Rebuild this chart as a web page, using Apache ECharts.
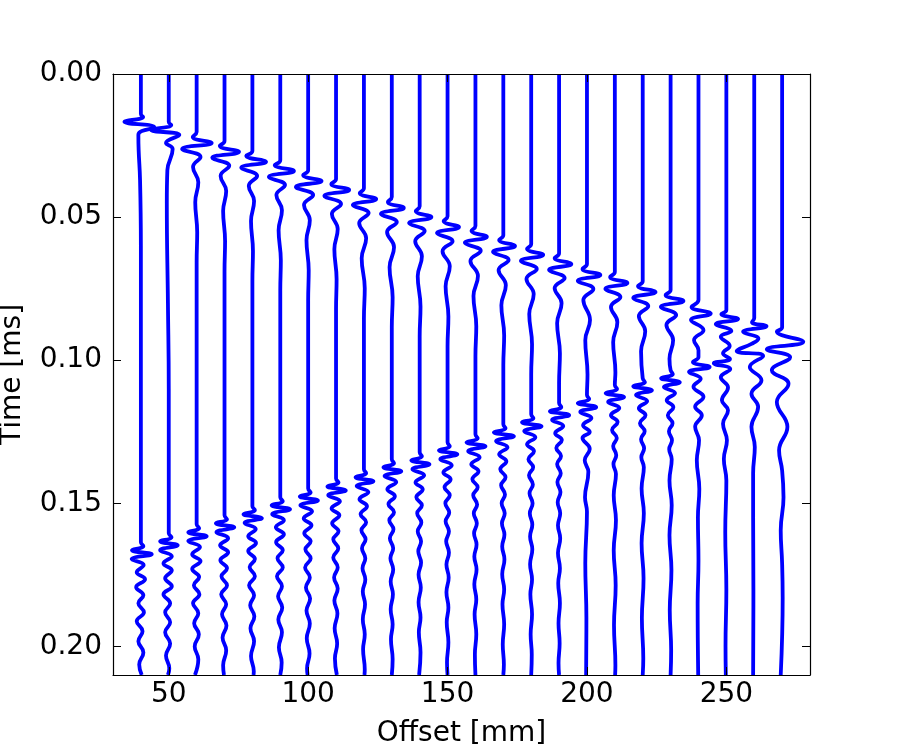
<!DOCTYPE html>
<html>
<head>
<meta charset="utf-8">
<title>Offset / Time wiggle plot</title>
<script src="https://cdn.jsdelivr.net/npm/echarts@6.0.0/dist/echarts.min.js"></script>
<style>
    html, body { margin: 0; padding: 0; background: #fff; }
    #echart1 { width: 900px; height: 750px; }
</style>
</head>
<body>
<div id="echart1"></div>
<script>
// trace positions (mm) and tick labels
var offsets = [40, 50, 60, 70, 80, 90, 100, 110, 120, 130, 140, 150, 160, 170, 180, 190, 200, 210, 220, 230, 240, 250, 260, 270];
var xTicks = [50, 100, 150, 200, 250];
var yTicks = [0, 0.05, 0.1, 0.15, 0.2];

// each trace: [time, deflection in mm]
var trace40 = [[0,0],[0.0140,0],[0.0150,0.8],[0.0167,-5.9],[0.0186,4.8],[0.0212,-0.9],[0.0266,-0.8],[0.0370,-0.3],[0.0600,0],[0.1636,0],[0.1650,0.9],[0.1664,-3.2],[0.1678,3.9],[0.1695,-3.3],[0.1716,1.0],[0.1741,-1.5],[0.1765,1.5],[0.1793,-1.7],[0.1821,0.9],[0.1849,-0.9],[0.1881,1.1],[0.1912,-1.5],[0.1947,0.6],[0.1982,-0.9],[0.2021,0.9],[0.2063,-0.6],[0.2100,0.3]];
var trace50 = [[0,0],[0.0168,0],[0.0178,0.9],[0.0196,-6.3],[0.0213,3.8],[0.0241,-1.0],[0.0262,1.4],[0.0336,-0.5],[0.0451,-0.7],[0.0800,-0.3],[0.1100,0],[0.1605,0],[0.1619,1.0],[0.1633,-3.1],[0.1647,3.2],[0.1664,-3.1],[0.1685,1.1],[0.1710,-1.9],[0.1734,1.1],[0.1762,-1.3],[0.1790,1.1],[0.1818,-1.9],[0.1850,0.5],[0.1881,-1.3],[0.1916,0.5],[0.1951,-1.3],[0.1990,0.5],[0.2032,-1.0],[0.2077,0.2],[0.2100,-0.3]];
var trace60 = [[0,0],[0.0203,0],[0.0220,-1.4],[0.0241,5.4],[0.0262,-5.2],[0.0290,1.4],[0.0325,-1.3],[0.0378,0.6],[0.0448,-0.5],[0.0553,0.2],[0.0658,0],[0.1573,0],[0.1587,0.9],[0.1601,-3.0],[0.1615,3.6],[0.1632,-3.0],[0.1653,1.2],[0.1678,-1.6],[0.1702,1.4],[0.1730,-1.6],[0.1758,0.9],[0.1786,-1.0],[0.1818,1.0],[0.1849,-1.3],[0.1884,0.6],[0.1919,-0.9],[0.1958,0.8],[0.2000,-0.7],[0.2045,0.6],[0.2100,-0.6]];
var trace70 = [[0,0],[0.0234,0],[0.0251,-1.7],[0.0272,5.2],[0.0293,-4.4],[0.0321,1.7],[0.0356,-1.4],[0.0409,0.6],[0.0479,-0.5],[0.0584,0.2],[0.0689,0],[0.1542,0],[0.1556,0.9],[0.1570,-3.1],[0.1584,3.5],[0.1601,-2.9],[0.1622,1.3],[0.1647,-1.6],[0.1671,1.3],[0.1699,-1.5],[0.1727,0.9],[0.1755,-1.1],[0.1787,0.9],[0.1818,-1.2],[0.1853,0.6],[0.1888,-0.9],[0.1927,0.7],[0.1969,-0.7],[0.2014,0.6],[0.2066,-0.5],[0.2100,-0.2]];
var trace80 = [[0,0],[0.0269,0],[0.0286,-2.2],[0.0307,4.9],[0.0328,-4.0],[0.0356,1.7],[0.0391,-1.3],[0.0444,0.6],[0.0514,-0.5],[0.0619,0.2],[0.0724,0],[0.1510,0],[0.1524,0.9],[0.1538,-3.2],[0.1552,3.4],[0.1569,-2.8],[0.1590,1.2],[0.1615,-1.5],[0.1639,1.3],[0.1667,-1.5],[0.1695,0.9],[0.1723,-1.0],[0.1755,0.9],[0.1786,-1.2],[0.1821,0.6],[0.1856,-0.8],[0.1895,0.7],[0.1937,-0.7],[0.1982,0.6],[0.2034,-0.5],[0.2087,0.5],[0.2100,0.4]];
var trace90 = [[0,0],[0.0301,0],[0.0318,-2.0],[0.0339,4.9],[0.0360,-4.1],[0.0388,1.7],[0.0423,-1.4],[0.0476,0.6],[0.0546,-0.6],[0.0651,0.2],[0.0756,0],[0.1479,0],[0.1493,0.9],[0.1507,-3.1],[0.1521,3.5],[0.1538,-2.9],[0.1559,1.3],[0.1584,-1.6],[0.1608,1.3],[0.1636,-1.5],[0.1664,0.9],[0.1692,-1.0],[0.1724,0.9],[0.1755,-1.2],[0.1790,0.6],[0.1825,-0.8],[0.1864,0.7],[0.1906,-0.7],[0.1951,0.6],[0.2003,-0.5],[0.2056,0.5],[0.2100,0]];
var trace100 = [[0,0],[0.0336,0],[0.0353,-1.8],[0.0374,4.8],[0.0395,-4.4],[0.0423,1.8],[0.0458,-1.5],[0.0511,0.6],[0.0581,-0.6],[0.0686,0.2],[0.0791,0],[0.1448,0],[0.1462,0.9],[0.1476,-3.0],[0.1490,3.5],[0.1507,-2.8],[0.1528,1.4],[0.1553,-1.6],[0.1577,1.2],[0.1605,-1.4],[0.1633,0.9],[0.1661,-1.0],[0.1693,0.9],[0.1724,-1.1],[0.1759,0.6],[0.1794,-0.8],[0.1833,0.7],[0.1875,-0.6],[0.1920,0.6],[0.1972,-0.5],[0.2025,0.5],[0.2077,-0.4],[0.2100,-0.2]];
var trace110 = [[0,0],[0.0367,0],[0.0384,-1.7],[0.0405,4.7],[0.0426,-4.2],[0.0454,1.8],[0.0489,-1.5],[0.0542,0.6],[0.0612,-0.6],[0.0717,0.2],[0.0822,0],[0.1413,0],[0.1427,0.9],[0.1441,-3.1],[0.1455,3.5],[0.1472,-2.8],[0.1493,1.4],[0.1518,-1.6],[0.1542,1.2],[0.1570,-1.4],[0.1598,0.9],[0.1626,-1.0],[0.1658,0.8],[0.1689,-1.0],[0.1724,0.6],[0.1759,-0.7],[0.1798,0.6],[0.1840,-0.6],[0.1885,0.5],[0.1937,-0.5],[0.1990,0.4],[0.2042,-0.4],[0.2100,0.3]];
var trace120 = [[0,0],[0.0399,0],[0.0416,-1.5],[0.0437,4.4],[0.0458,-4.0],[0.0486,1.7],[0.0521,-1.7],[0.0574,0.8],[0.0644,-0.8],[0.0749,0.3],[0.0854,0],[0.1381,0],[0.1395,0.8],[0.1409,-3.0],[0.1423,3.4],[0.1440,-2.6],[0.1461,1.6],[0.1486,-1.6],[0.1510,1.1],[0.1538,-1.2],[0.1566,0.8],[0.1594,-0.9],[0.1626,0.6],[0.1657,-0.7],[0.1692,0.5],[0.1727,-0.5],[0.1766,0.5],[0.1808,-0.4],[0.1853,0.4],[0.1905,-0.4],[0.1958,0.3],[0.2010,-0.3],[0.2080,0.3],[0.2100,0.2]];
var trace130 = [[0,0],[0.0430,0],[0.0447,-1.4],[0.0468,4.3],[0.0489,-3.9],[0.0517,1.8],[0.0552,-1.7],[0.0605,0.8],[0.0675,-0.8],[0.0780,0.3],[0.0885,0],[0.1346,0],[0.1360,0.8],[0.1374,-3.0],[0.1388,3.4],[0.1405,-2.6],[0.1426,1.6],[0.1451,-1.6],[0.1475,1.1],[0.1503,-1.2],[0.1531,0.8],[0.1559,-0.9],[0.1591,0.6],[0.1622,-0.7],[0.1657,0.5],[0.1692,-0.5],[0.1731,0.5],[0.1773,-0.4],[0.1818,0.4],[0.1870,-0.4],[0.1923,0.3],[0.1975,-0.3],[0.2045,0.3],[0.2100,0]];
var trace140 = [[0,0],[0.0462,0],[0.0479,-1.4],[0.0500,4.2],[0.0521,-3.8],[0.0549,1.8],[0.0584,-1.6],[0.0637,0.8],[0.0707,-0.7],[0.0812,0.3],[0.0917,0],[0.1322,0],[0.1336,0.8],[0.1350,-3.0],[0.1364,3.5],[0.1381,-2.6],[0.1402,1.6],[0.1427,-1.5],[0.1451,1.1],[0.1479,-1.2],[0.1507,0.8],[0.1535,-0.9],[0.1567,0.6],[0.1598,-0.7],[0.1633,0.5],[0.1668,-0.5],[0.1707,0.5],[0.1749,-0.4],[0.1794,0.4],[0.1846,-0.4],[0.1899,0.3],[0.1951,-0.3],[0.2021,0.3],[0.2100,-0.2]];
var trace150 = [[0,0],[0.0497,0],[0.0514,-1.4],[0.0535,4.1],[0.0556,-3.8],[0.0584,1.8],[0.0619,-1.8],[0.0672,0.8],[0.0742,-0.7],[0.0847,0.3],[0.0952,0],[0.1287,0],[0.1301,0.8],[0.1315,-3.1],[0.1329,3.5],[0.1346,-2.6],[0.1367,1.5],[0.1392,-1.5],[0.1416,1.1],[0.1444,-1.1],[0.1472,0.8],[0.1500,-0.8],[0.1532,0.6],[0.1563,-0.7],[0.1598,0.5],[0.1633,-0.5],[0.1672,0.5],[0.1714,-0.4],[0.1759,0.4],[0.1811,-0.4],[0.1864,0.3],[0.1916,-0.3],[0.1986,0.3],[0.2056,-0.2],[0.2100,0]];
var trace160 = [[0,0],[0.0531,0],[0.0548,-1.4],[0.0569,4.1],[0.0590,-3.8],[0.0618,1.9],[0.0653,-1.8],[0.0706,0.9],[0.0776,-0.7],[0.0881,0.3],[0.0986,0],[0.1259,0],[0.1273,0.8],[0.1287,-3.2],[0.1301,3.6],[0.1318,-2.6],[0.1339,1.5],[0.1364,-1.5],[0.1388,1.1],[0.1416,-1.1],[0.1444,0.8],[0.1472,-0.8],[0.1504,0.6],[0.1535,-0.6],[0.1570,0.5],[0.1605,-0.5],[0.1644,0.4],[0.1686,-0.4],[0.1731,0.4],[0.1783,-0.4],[0.1836,0.3],[0.1888,-0.3],[0.1958,0.3],[0.2028,-0.2],[0.2100,0]];
var trace170 = [[0,0],[0.0563,0],[0.0580,-1.5],[0.0601,4.2],[0.0622,-3.7],[0.0650,1.9],[0.0685,-1.7],[0.0738,0.9],[0.0808,-0.7],[0.0913,0.3],[0.1018,0],[0.1224,0],[0.1238,0.8],[0.1252,-3.4],[0.1266,3.8],[0.1283,-2.6],[0.1304,1.5],[0.1329,-1.5],[0.1353,1.1],[0.1381,-1.1],[0.1409,0.8],[0.1437,-0.8],[0.1469,0.6],[0.1500,-0.6],[0.1535,0.5],[0.1570,-0.5],[0.1609,0.4],[0.1651,-0.4],[0.1696,0.4],[0.1748,-0.4],[0.1801,0.3],[0.1853,-0.3],[0.1923,0.3],[0.1993,-0.2],[0.2063,0.2],[0.2100,0]];
var trace180 = [[0,0],[0.0594,0],[0.0611,-1.5],[0.0632,4.3],[0.0653,-3.7],[0.0681,2.0],[0.0716,-1.7],[0.0769,0.9],[0.0839,-0.7],[0.0944,0.3],[0.1049,0],[0.1189,0],[0.1203,0.8],[0.1217,-3.3],[0.1231,3.7],[0.1248,-2.5],[0.1269,1.5],[0.1294,-1.5],[0.1318,1.0],[0.1346,-1.0],[0.1374,0.7],[0.1402,-0.8],[0.1434,0.6],[0.1465,-0.6],[0.1500,0.5],[0.1535,-0.5],[0.1574,0.4],[0.1616,-0.4],[0.1661,0.4],[0.1713,-0.4],[0.1766,0.3],[0.1818,-0.3],[0.1888,0.3],[0.1958,-0.2],[0.2028,0.2],[0.2100,0]];
var trace190 = [[0,0],[0.0626,0],[0.0643,-1.6],[0.0664,4.4],[0.0685,-3.6],[0.0713,2.0],[0.0748,-1.6],[0.0801,0.9],[0.0871,-0.7],[0.0976,0.3],[0.1081,0],[0.1150,0],[0.1164,0.8],[0.1178,-3.3],[0.1192,3.6],[0.1209,-2.5],[0.1230,1.5],[0.1255,-1.4],[0.1279,1.0],[0.1307,-1.0],[0.1335,0.7],[0.1363,-0.7],[0.1395,0.6],[0.1426,-0.6],[0.1461,0.5],[0.1496,-0.5],[0.1535,0.4],[0.1577,-0.4],[0.1622,0.4],[0.1674,-0.4],[0.1727,0.3],[0.1779,-0.3],[0.1849,0.3],[0.1919,-0.2],[0.1989,0.2],[0.2059,-0.2],[0.2100,0]];
var trace200 = [[0,0],[0.0664,0],[0.0681,-1.6],[0.0702,4.8],[0.0723,-3.3],[0.0751,2.3],[0.0790,-1.3],[0.0860,1.1],[0.0930,-0.6],[0.1050,0.2],[0.1122,0],[0.1136,0.8],[0.1150,-3.3],[0.1164,3.3],[0.1181,-2.4],[0.1202,1.6],[0.1227,-1.4],[0.1251,1.0],[0.1272,-1.6],[0.1310,1.0],[0.1350,-0.8],[0.1390,0.5],[0.1479,-0.7],[0.1530,0],[0.1710,-0.6],[0.1900,-0.2],[0.2100,-0.3]];
var trace210 = [[0,0],[0.0692,0],[0.0709,-1.7],[0.0730,4.5],[0.0751,-3.4],[0.0779,2.0],[0.0814,-1.4],[0.0867,0.9],[0.0937,-0.6],[0.1042,0.2],[0.1087,0],[0.1101,0.8],[0.1115,-3.3],[0.1129,3.3],[0.1146,-2.4],[0.1167,1.6],[0.1192,-1.4],[0.1216,1.0],[0.1244,-1.0],[0.1272,0.7],[0.1300,-0.6],[0.1332,0.5],[0.1363,-0.5],[0.1398,0.4],[0.1472,-0.4],[0.1559,0.4],[0.1664,-0.4],[0.1786,0.3],[0.1926,-0.3],[0.2066,0.2],[0.2100,0.1]];
var trace220 = [[0,0],[0.0724,0],[0.0741,-1.7],[0.0762,4.6],[0.0783,-3.4],[0.0811,2.0],[0.0846,-1.4],[0.0899,0.9],[0.0969,-0.6],[0.1063,0],[0.1077,0.8],[0.1091,-3.4],[0.1105,3.3],[0.1122,-2.4],[0.1143,1.6],[0.1168,-1.4],[0.1192,1.0],[0.1220,-1.0],[0.1248,0.7],[0.1276,-0.6],[0.1308,0.5],[0.1339,-0.5],[0.1374,0.4],[0.1448,-0.4],[0.1535,0.4],[0.1640,-0.4],[0.1762,0.3],[0.1902,-0.3],[0.2042,0.2],[0.2100,0]];
var trace230 = [[0,0],[0.0755,0],[0.0772,-1.8],[0.0793,4.6],[0.0814,-3.5],[0.0842,2.0],[0.0877,-1.5],[0.0930,0.9],[0.0995,-0.4],[0.1035,0],[0.1049,0.8],[0.1063,-3.4],[0.1077,3.3],[0.1094,-2.4],[0.1115,1.6],[0.1140,-1.4],[0.1164,1.0],[0.1192,-1.0],[0.1220,0.7],[0.1248,-0.6],[0.1280,0.5],[0.1311,-0.5],[0.1346,0.4],[0.1420,-0.4],[0.1507,0.4],[0.1612,-0.4],[0.1734,0.3],[0.1874,-0.3],[0.2014,0.2],[0.2100,0]];
var trace240 = [[0,0],[0.0790,0],[0.0814,-2.5],[0.0837,4.4],[0.0860,-2.7],[0.0895,1.8],[0.0930,-1.6],[0.0965,0],[0.0990,0],[0.1006,-2.0],[0.1024,4.0],[0.1041,-3.4],[0.1065,0.8],[0.1093,-1.8],[0.1128,1.8],[0.1163,-1.2],[0.1192,1.2],[0.1233,-1.2],[0.1280,0.2],[0.1350,-0.6],[0.1450,0.3],[0.1550,-0.2],[0.1700,0],[0.1850,-0.3],[0.2100,-0.1]];
var trace250 = [[0,0],[0.0825,0],[0.0839,-1.8],[0.0856,4.2],[0.0874,-3.8],[0.0898,1.8],[0.0918,-2.0],[0.0950,1.2],[0.0976,-1.2],[0.0996,1.3],[0.1011,-4.5],[0.1031,1.4],[0.1060,-2.0],[0.1095,0.6],[0.1140,-1.6],[0.1175,0.6],[0.1222,-1.2],[0.1280,0.2],[0.1345,-0.9],[0.1420,0],[0.1600,-0.4],[0.1800,0],[0.2000,-0.3],[0.2100,-0.2]];
var trace260 = [[0,0],[0.0853,0],[0.0867,-0.8],[0.0881,4.4],[0.0901,-4.0],[0.0925,1.5],[0.0943,-1.0],[0.0968,-6.3],[0.0985,3.2],[0.1024,-1.6],[0.1070,2.6],[0.1117,-1.0],[0.1163,1.4],[0.1233,-1.0],[0.1303,0.2],[0.1395,-0.4],[0.1550,-0.4],[0.1800,-0.3],[0.2100,-0.4]];
var trace270 = [[0,0],[0.0885,0],[0.0900,-1.9],[0.0936,7.6],[0.0962,-5.5],[0.0990,2.9],[0.1035,-3.7],[0.1082,2.3],[0.1146,-1.9],[0.1233,1.9],[0.1315,-1.1],[0.1385,0],[0.1479,0.5],[0.1594,-0.5],[0.1710,0],[0.1829,0.2],[0.2100,-0.5]];

var traces = [trace40, trace50, trace60, trace70, trace80, trace90, trace100, trace110,
    trace120, trace130, trace140, trace150, trace160, trace170, trace180, trace190,
    trace200, trace210, trace220, trace230, trace240, trace250, trace260, trace270];

drawWiggles();

function drawWiggles() {
    var myChart = echarts.init(document.getElementById('echart1'));
    var font = 'DejaVu Sans';

    var series = [];
    for (var i = 0; i < offsets.length; i++) {
        var off = offsets[i];
        series.push({
            type: 'line',
            data: traces[i].map(function (p) { return [off + p[1], p[0]]; }),
            smooth: 0.45,
            showSymbol: false,
            symbol: 'none',
            z: 2,
            lineStyle: { color: '#0000ff', width: 3.8 }
        });
    }

    var tick = { inside: true, length: 8, lineStyle: { color: '#000', width: 1 } };
    var line = { show: true, onZero: false, lineStyle: { color: '#000', width: 1.2 } };

    option = {
        animation: false,
        backgroundColor: '#fff',
        grid: { left: 113, right: 90, top: 74, bottom: 75, outerBoundsMode: 'none' },
        xAxis: [
            {
                type: 'value', min: 30, max: 280, position: 'bottom', z: 5,
                name: 'Offset [mm]', nameLocation: 'middle', nameGap: 45,
                nameTextStyle: { fontFamily: font, fontSize: 28, color: '#000' },
                axisLine: line,
                axisTick: Object.assign({ customValues: xTicks }, tick),
                axisLabel: { customValues: xTicks, fontFamily: font, fontSize: 28, color: '#000', margin: 6 },
                splitLine: { show: false }
            },
            {
                type: 'value', min: 30, max: 280, position: 'top', z: 5,
                axisLine: line,
                axisTick: Object.assign({ customValues: xTicks }, tick),
                axisLabel: { show: false },
                splitLine: { show: false }
            }
        ],
        yAxis: [
            {
                type: 'value', min: 0, max: 0.21, inverse: true, position: 'left', z: 5,
                name: 'Time [ms]', nameLocation: 'middle', nameGap: 86,
                nameTextStyle: { fontFamily: font, fontSize: 28, color: '#000' },
                axisLine: line,
                axisTick: Object.assign({ customValues: yTicks }, tick),
                axisLabel: {
                    customValues: yTicks, fontFamily: font, fontSize: 28, color: '#000', margin: 11,
                    formatter: function (v) { return v.toFixed(2); }
                },
                splitLine: { show: false }
            },
            {
                type: 'value', min: 0, max: 0.21, inverse: true, position: 'right', z: 5,
                axisLine: line,
                axisTick: Object.assign({ customValues: yTicks }, tick),
                axisLabel: { show: false },
                splitLine: { show: false }
            }
        ],
        series: series
    };

    myChart.setOption(option);
}
</script>
</body>
</html>
